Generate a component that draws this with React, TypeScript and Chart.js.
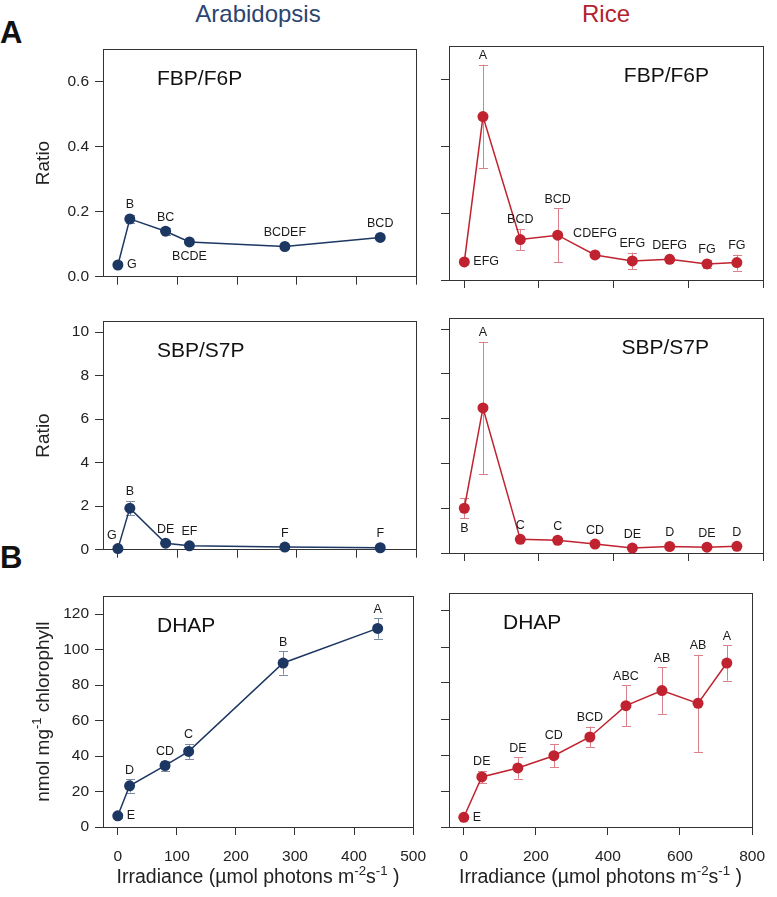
import React, { useEffect, useRef } from 'react';
import { Chart, registerables } from 'chart.js';
Chart.register(...registerables);

const FONT = '"Liberation Sans", Arial, Helvetica, sans-serif';

// ---------- data ----------
const arabIrradiance = [0, 20, 80, 120, 280, 440];
const riceIrradiance = [0, 50, 150, 250, 350, 450, 550, 650, 730];

const arabFbp = [0.036, 0.178, 0.14, 0.107, 0.093, 0.121];
const arabFbpErr = [0.004, 0.012, 0.011, 0.006, 0.005, 0.006];
const arabFbpLetters = ['G', 'B', 'BC', 'BCDE', 'BCDEF', 'BCD'];

const riceFbp = [0.054, 0.489, 0.121, 0.134, 0.075, 0.057, 0.062, 0.048, 0.052];
const riceFbpErr = [0.004, 0.155, 0.032, 0.081, 0.006, 0.025, 0.005, 0.012, 0.024];
const riceFbpLetters = ['EFG', 'A', 'BCD', 'BCD', 'CDEFG', 'EFG', 'DEFG', 'FG', 'FG'];

const arabSbp = [0.05, 1.91, 0.3, 0.18, 0.12, 0.09];
const arabSbpErr = [0.03, 0.33, 0.08, 0.04, 0.03, 0.03];
const arabSbpLetters = ['G', 'B', 'DE', 'EF', 'F', 'F'];

const riceSbp = [2.0, 6.48, 0.61, 0.57, 0.4, 0.22, 0.29, 0.26, 0.3];
const riceSbpErr = [0.44, 2.96, 0.05, 0.1, 0.05, 0.04, 0.04, 0.04, 0.04];
const riceSbpLetters = ['B', 'A', 'C', 'C', 'CD', 'DE', 'D', 'DE', 'D'];

const arabDhap = [6.3, 23.2, 34.6, 42.6, 92.4, 111.9];
const arabDhapErr = [1.0, 3.8, 2.8, 4.2, 6.5, 5.8];
const arabDhapLetters = ['E', 'D', 'CD', 'C', 'B', 'A'];

const riceDhap = [5.4, 27.8, 32.8, 39.6, 50.0, 67.4, 75.8, 68.7, 91.1];
const riceDhapErr = [0.8, 3.3, 6.0, 6.4, 5.8, 11.4, 13.0, 26.9, 9.8];
const riceDhapLetters = ['E', 'DE', 'DE', 'CD', 'BCD', 'ABC', 'AB', 'AB', 'A'];

const arabXTicks = [0, 100, 200, 300, 400, 500];
const riceXTicks = [0, 200, 400, 600, 800];
const fbpYTicks = [0, 0.2, 0.4, 0.6];
const sbpYTicks = [0, 2, 4, 6, 8, 10];
const dhapYTicks = [0, 20, 40, 60, 80, 100, 120];

// letter placement (a = above, a2 = higher above, b = below, r = right, ul = upper-left)
const arabFbpLabelPos = ['r', 'a', 'a', 'b', 'a', 'a'];
const riceFbpLabelPos = ['r', 'a', 'a', 'a', 'a2', 'a', 'a', 'a', 'a'];
const arabSbpLabelPos = ['ul', 'a', 'a', 'a', 'a', 'a'];
const riceSbpLabelPos = ['b', 'a', 'a', 'a', 'a', 'a', 'a', 'a', 'a'];
const arabDhapLabelPos = ['r', 'a', 'a', 'a', 'a', 'a'];
const riceDhapLabelPos = ['r', 'a', 'a', 'a', 'a', 'a', 'a', 'a', 'a'];

// ---------- styles ----------
const ARAB = '#1c3762';
const ARAB_ERR = '#7d8ba3';
const RICE = '#c0222f';
const RICE_ERR = '#d9808a';

type Part = { t: string; sup?: boolean };
const ratioTitle: Part[] = [{ t: 'Ratio' }];
const dhapTitle: Part[] = [{ t: 'nmol mg' }, { t: '-1', sup: true }, { t: ' chlorophyll' }];
const xTitle: Part[] = [
  { t: 'Irradiance (\u00b5mol photons m' },
  { t: '-2', sup: true },
  { t: 's' },
  { t: '-1', sup: true },
  { t: ' )' },
];

type Box = { l: number; t: number; r: number; b: number };
type PanelCfg = {
  key: string;
  box: Box;
  m: Box;
  xs: number[];
  ys: number[];
  errs: number[];
  letters: string[];
  letterPos: string[];
  color: string;
  errColor: string;
  xMin: number;
  xMax: number;
  xTicks: number[];
  yMax: number;
  yTicks: number[];
  yDec: number;
  showX: boolean;
  showY: boolean;
  yTitle: Part[] | null;
  xTitle: Part[] | null;
  title: string;
  titleSide: 'left' | 'right';
};

const LEFT = { l: 103, r: 416 };
const RIGHT = { l: 449, r: 763 };
const ROWS = [
  { t: 46, b: 280 },
  { t: 318, b: 553 },
  { t: 593, b: 827 },
];
const LM = { l: 103, r: 22 };
const RM = { l: 20, r: 14 };

function mk(col: 'L' | 'R', row: number, rest: Partial<PanelCfg>): PanelCfg {
  const c = col === 'L' ? LEFT : RIGHT;
  const cm = col === 'L' ? LM : RM;
  const r = ROWS[row];
  return {
    key: col + row,
    box: { l: c.l, r: c.r, t: r.t, b: r.b },
    m: { l: cm.l, r: cm.r, t: 12, b: row === 2 ? 70 : 12 },
    showX: row === 2,
    showY: col === 'L',
    xTitle: row === 2 ? xTitle : null,
    ...(rest as any),
  } as PanelCfg;
}

const arabX = { xs: arabIrradiance, xMin: -25, xMax: 500, xTicks: arabXTicks, color: ARAB, errColor: ARAB_ERR };
const riceX = { xs: riceIrradiance, xMin: -41, xMax: 800, xTicks: riceXTicks, color: RICE, errColor: RICE_ERR };

const panels: PanelCfg[] = [
  mk('L', 0, { ...arabX, ys: arabFbp, errs: arabFbpErr, letters: arabFbpLetters, letterPos: arabFbpLabelPos, yMax: 0.7, yTicks: fbpYTicks, yDec: 1, yTitle: ratioTitle, title: 'FBP/F6P', titleSide: 'left' }),
  mk('R', 0, { ...riceX, ys: riceFbp, errs: riceFbpErr, letters: riceFbpLetters, letterPos: riceFbpLabelPos, yMax: 0.7, yTicks: fbpYTicks, yDec: 1, yTitle: null, title: 'FBP/F6P', titleSide: 'right' }),
  mk('L', 1, { ...arabX, ys: arabSbp, errs: arabSbpErr, letters: arabSbpLetters, letterPos: arabSbpLabelPos, yMax: 10.5, yTicks: sbpYTicks, yDec: 0, yTitle: ratioTitle, title: 'SBP/S7P', titleSide: 'left' }),
  mk('R', 1, { ...riceX, ys: riceSbp, errs: riceSbpErr, letters: riceSbpLetters, letterPos: riceSbpLabelPos, yMax: 10.5, yTicks: sbpYTicks, yDec: 0, yTitle: null, title: 'SBP/S7P', titleSide: 'right' }),
  mk('L', 2, { ...arabX, ys: arabDhap, errs: arabDhapErr, letters: arabDhapLetters, letterPos: arabDhapLabelPos, yMax: 130, yTicks: dhapYTicks, yDec: 0, yTitle: dhapTitle, title: 'DHAP', titleSide: 'left' }),
  mk('R', 2, { ...riceX, ys: riceDhap, errs: riceDhapErr, letters: riceDhapLetters, letterPos: riceDhapLabelPos, yMax: 130, yTicks: dhapYTicks, yDec: 0, yTitle: null, title: 'DHAP', titleSide: 'left' }),
];

function drawRich(ctx: CanvasRenderingContext2D, parts: Part[], cx: number, baseline: number, size: number) {
  const sup = size * 0.68;
  const widths = parts.map((p) => {
    ctx.font = `${p.sup ? sup : size}px ${FONT}`;
    return ctx.measureText(p.t).width;
  });
  const total = widths.reduce((a, b) => a + b, 0);
  let x = cx - total / 2;
  ctx.textAlign = 'left';
  ctx.textBaseline = 'alphabetic';
  parts.forEach((p, i) => {
    ctx.font = `${p.sup ? sup : size}px ${FONT}`;
    ctx.fillText(p.t, x, p.sup ? baseline - size * 0.4 : baseline);
    x += widths[i];
  });
}

function Panel({ cfg }: { cfg: PanelCfg }) {
  const ref = useRef<HTMLCanvasElement>(null);
  const w = cfg.m.l + (cfg.box.r - cfg.box.l) + cfg.m.r;
  const h = cfg.m.t + (cfg.box.b - cfg.box.t) + cfg.m.b;
  const left = cfg.box.l - cfg.m.l;
  const top = cfg.box.t - cfg.m.t;

  useEffect(() => {
    const canvas = ref.current!;
    const decor = {
      id: 'decor',
      beforeDatasetsDraw(chart: any) {
        const ctx: CanvasRenderingContext2D = chart.ctx;
        const a = chart.chartArea;
        const xs = chart.scales.x;
        const ys = chart.scales.y;
        ctx.save();
        ctx.strokeStyle = '#333';
        ctx.lineWidth = 1;
        ctx.strokeRect(Math.round(a.left) + 0.5, Math.round(a.top) + 0.5, Math.round(a.right - a.left), Math.round(a.bottom - a.top));
        ctx.strokeStyle = cfg.errColor;
        ctx.lineWidth = 1;
        cfg.xs.forEach((xv, i) => {
          const px = Math.round(xs.getPixelForValue(xv)) + 0.5;
          const t = ys.getPixelForValue(cfg.ys[i] + cfg.errs[i]);
          const b = ys.getPixelForValue(cfg.ys[i] - cfg.errs[i]);
          ctx.beginPath();
          ctx.moveTo(px, t);
          ctx.lineTo(px, b);
          ctx.moveTo(px - 4.5, Math.round(t) + 0.5);
          ctx.lineTo(px + 4.5, Math.round(t) + 0.5);
          ctx.moveTo(px - 4.5, Math.round(b) + 0.5);
          ctx.lineTo(px + 4.5, Math.round(b) + 0.5);
          ctx.stroke();
        });
        ctx.restore();
      },
      afterDatasetsDraw(chart: any) {
        const ctx: CanvasRenderingContext2D = chart.ctx;
        const a = chart.chartArea;
        const xs = chart.scales.x;
        const ys = chart.scales.y;
        ctx.save();
        ctx.fillStyle = '#1a1a1a';
        ctx.font = `12.5px ${FONT}`;
        ctx.textBaseline = 'middle';
        cfg.letters.forEach((lab, i) => {
          const px = xs.getPixelForValue(cfg.xs[i]);
          const py = ys.getPixelForValue(cfg.ys[i]);
          const et = ys.getPixelForValue(cfg.ys[i] + cfg.errs[i]);
          const eb = ys.getPixelForValue(cfg.ys[i] - cfg.errs[i]);
          const pos = cfg.letterPos[i];
          if (pos === 'r') {
            ctx.textAlign = 'left';
            ctx.fillText(lab, px + 9, py);
          } else if (pos === 'b') {
            ctx.textAlign = 'center';
            ctx.fillText(lab, px, Math.max(eb, py + 5) + 10);
          } else if (pos === 'ul') {
            ctx.textAlign = 'center';
            ctx.fillText(lab, px - 6, py - 13);
          } else if (pos === 'a2') {
            ctx.textAlign = 'center';
            ctx.fillText(lab, px, py - 21);
          } else {
            ctx.textAlign = 'center';
            ctx.fillText(lab, px, Math.min(et, py - 5) - 9);
          }
        });
        // panel title
        ctx.fillStyle = '#111';
        ctx.font = `21px ${FONT}`;
        ctx.textBaseline = 'middle';
        if (cfg.titleSide === 'left') {
          ctx.textAlign = 'left';
          ctx.fillText(cfg.title, a.left + 54, a.top + 30);
        } else {
          ctx.textAlign = 'right';
          ctx.fillText(cfg.title, a.right - 54, a.top + 30);
        }
        // axis titles
        ctx.fillStyle = '#222';
        if (cfg.yTitle) {
          ctx.save();
          ctx.translate(48.5 - left, (a.top + a.bottom) / 2);
          ctx.rotate(-Math.PI / 2);
          drawRich(ctx, cfg.yTitle, 0, 0, 19);
          ctx.restore();
        }
        if (cfg.xTitle) {
          drawRich(ctx, cfg.xTitle, (a.left + a.right) / 2, a.bottom + 56, 19.5);
        }
        ctx.restore();
      },
    };

    const chart = new Chart(canvas, {
      type: 'line',
      data: {
        datasets: [
          {
            data: cfg.xs.map((x, i) => ({ x, y: cfg.ys[i] })),
            borderColor: cfg.color,
            backgroundColor: cfg.color,
            pointBackgroundColor: cfg.color,
            pointBorderColor: cfg.color,
            pointBorderWidth: 0,
            pointRadius: 5.5,
            pointHoverRadius: 5.5,
            borderWidth: 1.5,
            tension: 0,
            clip: false as any,
          },
        ],
      },
      options: {
        responsive: false,
        animation: false,
        events: [],
        layout: { padding: { left: 0, top: cfg.m.t, right: cfg.m.r, bottom: 0 } },
        plugins: { legend: { display: false }, tooltip: { enabled: false } },
        scales: {
          x: {
            type: 'linear',
            position: 'bottom',
            min: cfg.xMin,
            max: cfg.xMax,
            afterBuildTicks: (s: any) => {
              s.ticks = cfg.xTicks.map((v) => ({ value: v }));
            },
            afterFit: (s: any) => {
              s.height = cfg.m.b;
            },
            ticks: {
              display: cfg.showX,
              color: '#222',
              font: { family: FONT, size: 15.5 },
              padding: 12,
              maxRotation: 0,
              autoSkip: false,
              callback: (v: any) => String(v),
            },
            grid: { display: true, drawOnChartArea: false, drawTicks: true, tickLength: 8, color: '#333', tickColor: '#333', lineWidth: 1 },
            border: { display: false },
          },
          y: {
            type: 'linear',
            position: 'left',
            min: 0,
            max: cfg.yMax,
            afterBuildTicks: (s: any) => {
              s.ticks = cfg.yTicks.map((v) => ({ value: v }));
            },
            afterFit: (s: any) => {
              s.width = cfg.m.l;
            },
            ticks: {
              display: cfg.showY,
              color: '#222',
              font: { family: FONT, size: 15.5 },
              padding: 6,
              autoSkip: false,
              callback: (v: any) => Number(v).toFixed(cfg.yDec),
            },
            grid: { display: true, drawOnChartArea: false, drawTicks: true, tickLength: 8, color: '#333', tickColor: '#333', lineWidth: 1 },
            border: { display: false },
          },
        },
      },
      plugins: [decor],
    } as any);
    return () => chart.destroy();
  }, []);

  return (
    <canvas
      ref={ref}
      width={w}
      height={h}
      style={{ position: 'absolute', left, top, width: w, height: h }}
    />
  );
}

export default function App() {
  const txt: React.CSSProperties = { position: 'absolute', fontFamily: FONT, whiteSpace: 'nowrap', textAlign: 'center' };
  return (
    <div style={{ position: 'absolute', left: 0, top: 0, width: 777, height: 897, background: '#fff', overflow: 'hidden' }}>
      <div style={{ ...txt, left: 158, width: 200, top: 0, fontSize: 24, lineHeight: '28px', color: '#2b4570' }}>Arabidopsis</div>
      <div style={{ ...txt, left: 506, width: 200, top: 0, fontSize: 24, lineHeight: '28px', color: '#b3222f' }}>Rice</div>
      <div style={{ ...txt, left: 0, width: 26, top: 15, fontSize: 31, lineHeight: '36px', fontWeight: 'bold', color: '#111', textAlign: 'left' }}>A</div>
      <div style={{ ...txt, left: 0, width: 26, top: 540, fontSize: 31, lineHeight: '36px', fontWeight: 'bold', color: '#111', textAlign: 'left' }}>B</div>
      {panels.map((p) => (
        <Panel key={p.key} cfg={p} />
      ))}
    </div>
  );
}
